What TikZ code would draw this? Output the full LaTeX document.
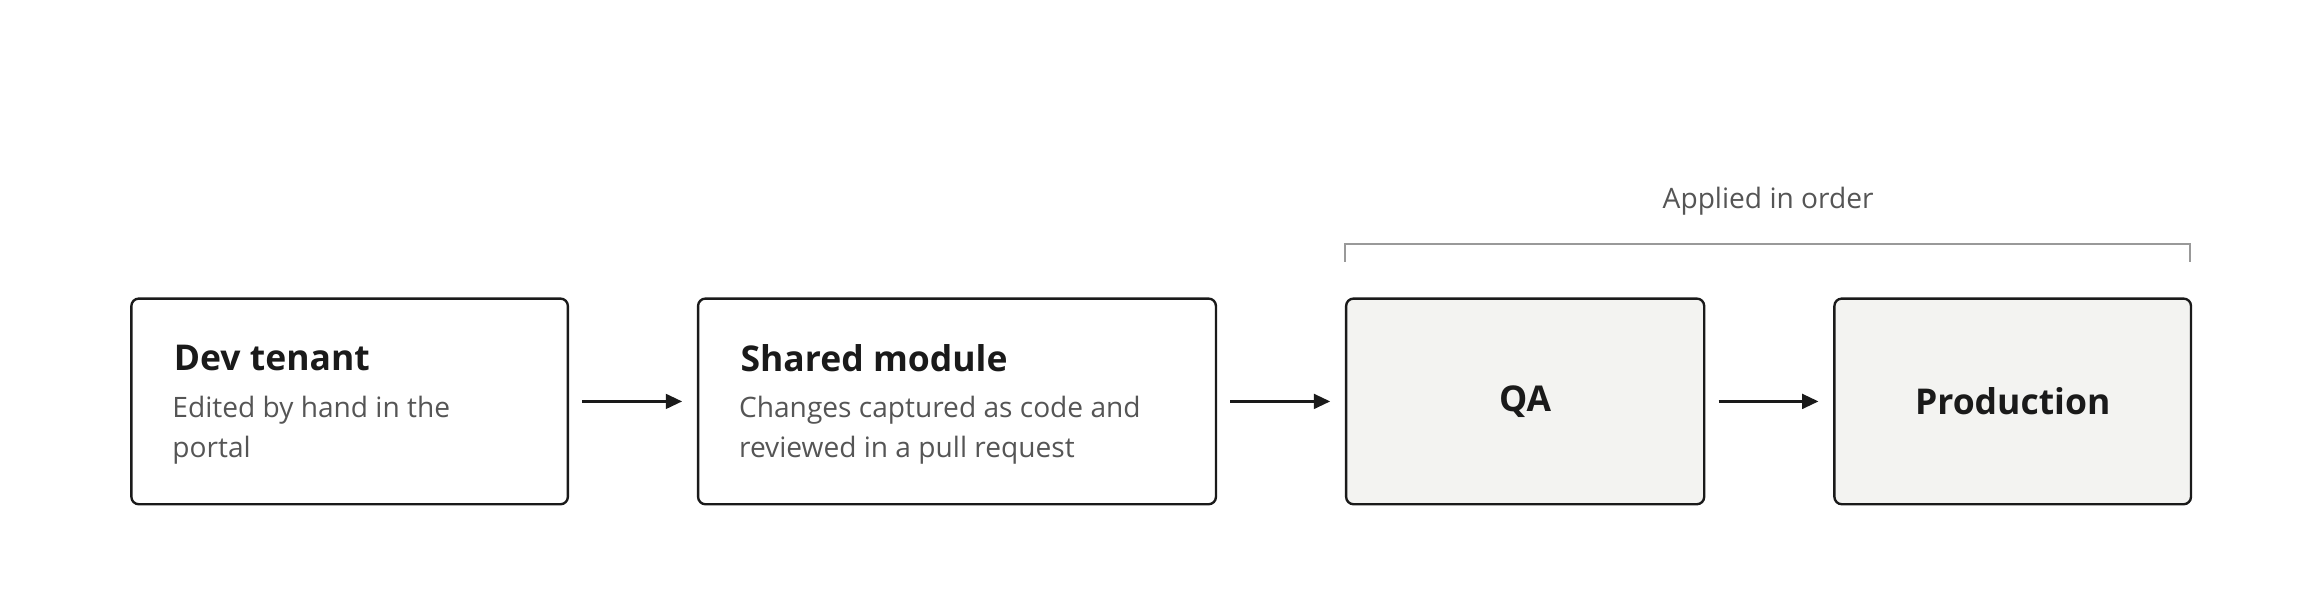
\documentclass[tikz,border=0pt]{standalone}
\usepackage{fontspec}
\setmainfont{Open Sans}
\usetikzlibrary{arrows.meta}
\definecolor{ink}{HTML}{1A1A1A}
\definecolor{sub}{HTML}{555555}
\definecolor{fillg}{HTML}{F3F3F1}
\definecolor{brk}{HTML}{999999}
\begin{document}
\begin{tikzpicture}[x=1pt,y=-1pt,
  box/.style={draw=ink,line width=1.6pt,rounded corners=5pt,minimum height=139pt,anchor=north west,inner sep=0},
  gbox/.style={box,fill=fillg},
  ttl/.style={font=\fontsize{24}{28}\selectfont\bfseries,text=ink,anchor=west},
  sb/.style={font=\fontsize{19}{27}\selectfont,text=sub,anchor=north west,align=left},
  arr/.style={draw=ink,line width=1.6pt,-{Triangle[length=11pt,width=10pt]}}]
\useasboundingbox (0,0) rectangle (1568,405);
\node[box,minimum width=295pt] (b1) at (88,201) {};
\node[box,minimum width=350pt] (b2) at (471,201) {};
\node[gbox,minimum width=242pt] (b3) at (909,201) {};
\node[gbox,minimum width=241pt] (b4) at (1239,201) {};
\node[ttl] (t1) at (114,242) {Dev tenant};
\node[sb] (s1) at (113,264) {Edited by hand in the\\portal};
\node[ttl] (t2) at (497,242) {Shared module};
\node[sb] (s2) at (496,264) {Changes captured as code and\\reviewed in a pull request};
\node[font=\fontsize{24}{28}\selectfont\bfseries,text=ink] (q) at (b3.center) {QA};
\node[font=\fontsize{24}{28}\selectfont\bfseries,text=ink] (p) at (b4.center) {Production};
\draw[arr] ([xshift=9pt]b1.east) -- ([xshift=-10pt]b2.west);
\draw[arr] ([xshift=9pt]b2.east) -- ([xshift=-10pt]b3.west);
\draw[arr] ([xshift=9pt]b3.east) -- ([xshift=-10pt]b4.west);
\coordinate (l1) at (909,177); \coordinate (l2) at (909,165);
\coordinate (r2) at (1480,165); \coordinate (r1) at (1480,177);
\draw[brk,line width=1.5pt] (l1) -- (l2) -- (r2) -- (r1);
\node[font=\fontsize{19}{23}\selectfont,text=sub] (lab) at (1195,136) {Applied in order};
\end{tikzpicture}
\end{document}
